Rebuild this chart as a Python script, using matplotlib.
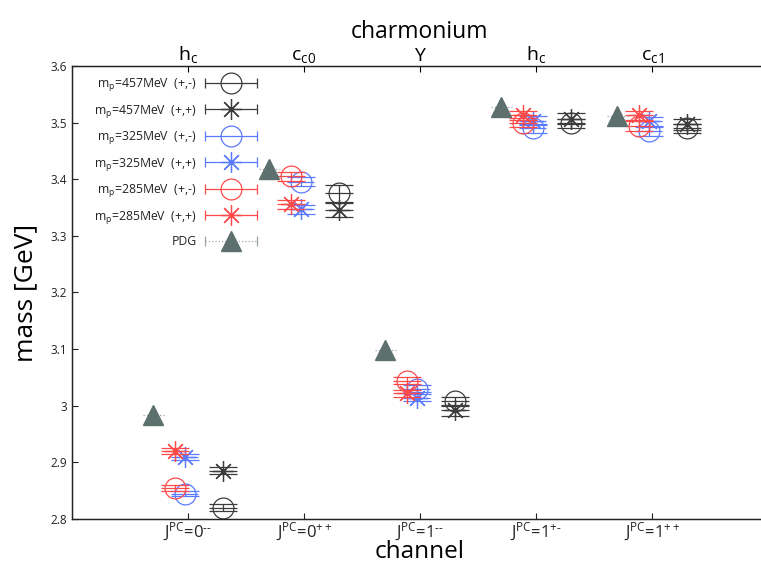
import matplotlib
matplotlib.use("Agg")
import matplotlib.pyplot as plt
from matplotlib.ticker import FuncFormatter
from matplotlib.legend_handler import HandlerTuple, HandlerErrorbar
from matplotlib.container import ErrorbarContainer

plt.rcParams['font.family'] = ['Open Sans', 'DejaVu Sans']
plt.rcParams['mathtext.default'] = 'regular'

# ---- data ----
D = '\u2010'
channels = [r'$J^{PC}$=0$^{' + D + D + '}$', r'$J^{PC}$=0$^{++}$',
            r'$J^{PC}$=1$^{' + D + D + '}$', r'$J^{PC}$=1$^{+' + D + '}$',
            r'$J^{PC}$=1$^{++}$']
states = [r'$h_c$', r'$c_{c0}$', r'$Y$', r'$h_c$', r'$c_{c1}$']

pdg = [2.984, 3.418, 3.099, 3.528, 3.512]

m457_pm = [2.820, 3.375, 3.008, 3.499, 3.490]
m457_pm_err = [0.006, 0.015, 0.008, 0.008, 0.008]
m457_pp = [2.885, 3.346, 2.992, 3.507, 3.497]
m457_pp_err = [0.006, 0.012, 0.010, 0.010, 0.010]

m325_pm = [2.845, 3.396, 3.030, 3.490, 3.485]
m325_pm_err = [0.005, 0.008, 0.006, 0.008, 0.008]
m325_pp = [2.909, 3.347, 3.014, 3.503, 3.502]
m325_pp_err = [0.005, 0.008, 0.006, 0.008, 0.008]

m285_pm = [2.855, 3.405, 3.044, 3.500, 3.494]
m285_pm_err = [0.005, 0.008, 0.006, 0.008, 0.008]
m285_pp = [2.920, 3.356, 3.022, 3.513, 3.513]
m285_pp_err = [0.005, 0.008, 0.006, 0.008, 0.008]

yticks = [2.8, 2.9, 3.0, 3.1, 3.2, 3.3, 3.4, 3.5, 3.6]

# ---- style ----
BLACK = '#3c3c3c'
BLUE = '#5a7bff'
RED = '#ff4a4a'
PDGC = '#5d706e'
STAR = (8, 2, 0)
XERR = 0.12
MS = 15
NAN = float('nan')

fig = plt.figure(figsize=(7.61, 5.66), dpi=100)
ax = fig.add_axes([72/761, 47/566, 696/761, 453/566])

xpos = list(range(1, len(channels) + 1))


def series(vals, errs, offset, color, marker):
    xs = [x + offset for x in xpos]
    ax.errorbar(xs, vals, xerr=XERR, fmt='none', ecolor=color, elinewidth=0.9,
                capsize=0)
    ax.errorbar(xs, vals, yerr=errs, fmt='none', ecolor=color, elinewidth=0.9,
                capsize=10, capthick=0.9)
    ax.plot(xs, vals, linestyle='none', marker=marker, markersize=MS,
            markerfacecolor='none', markeredgecolor=color, markeredgewidth=0.9)
    if marker == STAR:
        ax.plot(xs, vals, linestyle='none', marker='o', markersize=2.5, color=color)
    # legend proxy (not drawn: NaN data)
    hp = ax.errorbar([NAN], [NAN], xerr=[XERR], fmt='none', ecolor=color,
                     elinewidth=0.9, capsize=3.5, capthick=0.9)
    mp = ax.plot([], [], linestyle='none', marker=marker, markersize=MS,
                 markerfacecolor='none', markeredgecolor=color, markeredgewidth=0.9)[0]
    return (hp, mp)


handles = []
labels = []
specs = [
    (m457_pm, m457_pm_err, 0.30, BLACK, 'o', r'$m_p$=457MeV  (+,-)'),
    (m457_pp, m457_pp_err, 0.30, BLACK, STAR, r'$m_p$=457MeV  (+,+)'),
    (m325_pm, m325_pm_err, -0.03, BLUE, 'o', r'$m_p$=325MeV  (+,-)'),
    (m325_pp, m325_pp_err, -0.03, BLUE, STAR, r'$m_p$=325MeV  (+,+)'),
    (m285_pm, m285_pm_err, -0.11, RED, 'o', r'$m_p$=285MeV  (+,-)'),
    (m285_pp, m285_pp_err, -0.11, RED, STAR, r'$m_p$=285MeV  (+,+)'),
]
for vals, errs, off, col, mkr, lab in specs:
    handles.append(series(vals, errs, off, col, mkr))
    labels.append(lab)

# PDG
pxs = [x - 0.30 for x in xpos]
ph = ax.errorbar(pxs, pdg, xerr=0.09, fmt='none', ecolor='#9aa5a4', elinewidth=0.9)
ph[2][0].set_linestyle(':')
ax.plot(pxs, pdg, linestyle='none', marker='^', markersize=14,
        markerfacecolor=PDGC, markeredgecolor=PDGC)
php = ax.errorbar([NAN], [NAN], xerr=[0.09], fmt='none', ecolor='#9aa5a4',
                  elinewidth=0.9, capsize=3.5, capthick=0.9)
php[2][0].set_linestyle(':')
pmp = ax.plot([], [], linestyle='none', marker='^', markersize=14,
              markerfacecolor=PDGC, markeredgecolor=PDGC)[0]
handles.append((php, pmp))
labels.append('PDG')

leg = ax.legend(handles, labels, loc='upper right',
                bbox_to_anchor=((258 - 72) / 696, (519 - 76) / 453),
                frameon=False, markerfirst=False, fontsize=8.8,
                handlelength=4.4, handletextpad=0.6, labelspacing=0.78,
                borderpad=0, borderaxespad=0,
                handler_map={tuple: HandlerTuple(ndivide=1, pad=0),
                             ErrorbarContainer: HandlerErrorbar(xerr_size=2.15)})
for t in leg.get_texts():
    t.set_color('#222222')

ax.set_xlim(0, 6)
ax.set_ylim(2.8, 3.6)
ax.set_yticks(yticks)
ax.yaxis.set_major_formatter(FuncFormatter(lambda v, p: f'{v:g}'))
ax.set_xticks(xpos)
ax.set_xticklabels(channels, fontsize=12)
ax.tick_params(axis='both', direction='in', length=4, width=0.8,
               top=False, right=True, colors='#222222')
ax.tick_params(axis='y', labelsize=8.5)
ax.tick_params(axis='x', pad=1)
ax.set_ylabel('mass [GeV]', fontsize=19, labelpad=9)
ax.set_xlabel('channel', fontsize=17.5, labelpad=-2)

ax2 = ax.twiny()
ax2.set_xlim(0, 6)
ax2.set_xticks(xpos)
ax2.set_xticklabels(states, fontsize=14)
ax2.tick_params(axis='x', direction='in', length=4, width=0.8, pad=1)
ax2.set_xlabel('charmonium', fontsize=16.5, labelpad=4)

for a in (ax, ax2):
    for s in a.spines.values():
        s.set_linewidth(0.9)
        s.set_color('#222222')
    a.spines['right'].set_visible(False)

fig.savefig('out.png', dpi=100)
